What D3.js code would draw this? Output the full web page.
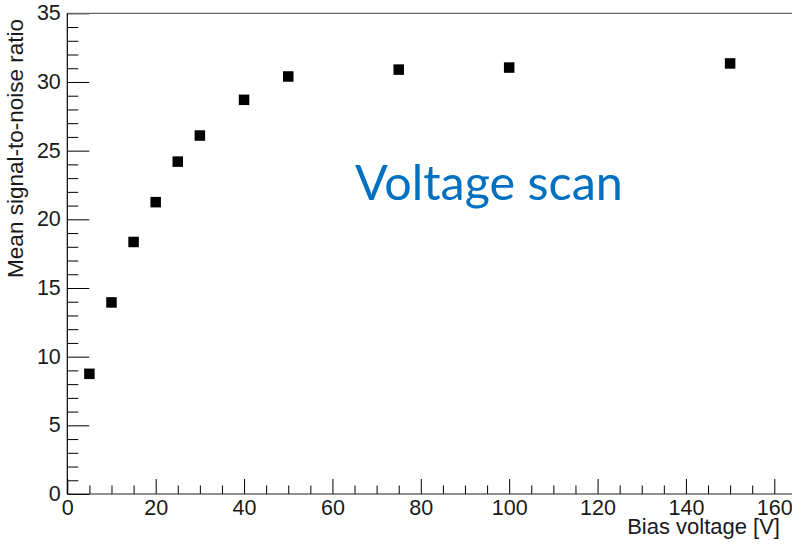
<!DOCTYPE html>
<html>
<head>
<meta charset="utf-8">
<script src="https://cdn.jsdelivr.net/npm/d3@7"></script>
<style>
  body { margin: 0; background: #fff; }
  .axis text { font-family: "Liberation Sans", Arial, sans-serif; font-size: 21.5px; fill: #1a1a1a; }
  .axis line { stroke: #000; }
</style>
</head>
<body>
<script>
// bias voltage [V] and mean S/N
var voltage = [5, 10, 15, 20, 25, 30, 40, 50, 75, 100, 150];
var snr = [8.75, 13.95, 18.35, 21.25, 24.2, 26.1, 28.7, 30.4, 30.9, 31.05, 31.35];
var xMajor = [0, 20, 40, 60, 80, 100, 120, 140, 160];
var yMajor = [0, 5, 10, 15, 20, 25, 30, 35];

var w = 792;
var h = 544;
var svg = d3.select("body")
            .append("svg")
            .attr("width", w)
            .attr("height", h);

var x0 = 67.3, y0 = 494, yTop = 13.3;

var xScale = d3.scaleLinear()
              .domain([0, 160])
              .range([x0, 774.3]);

var yScale = d3.scaleLinear()
              .domain([0, 35])
              .range([y0, yTop]);

// minor ticks first
var xMinor = d3.range(0, 165, 5).filter(function(v){ return v % 20 != 0; });
var yMinor = d3.range(0, 36, 1).filter(function(v){ return v % 5 != 0; });

svg.append("g")
    .attr("class", "axis")
    .attr("transform", "translate(0," + y0 + ")")
    .call(d3.axisBottom(xScale).tickValues(xMinor).tickSize(-8.5).tickSizeOuter(0).tickFormat(""))
    .call(function(g){ g.select(".domain").remove(); });

svg.append("g")
    .attr("class", "axis")
    .attr("transform", "translate(0," + y0 + ")")
    .call(d3.axisBottom(xScale).tickValues(xMajor).tickSize(-15).tickSizeOuter(0).tickPadding(5.5))
    .call(function(g){ g.select(".domain").remove(); });

svg.append("g")
    .attr("class", "axis")
    .attr("transform", "translate(" + x0 + ",0)")
    .call(d3.axisLeft(yScale).tickValues(yMinor).tickSize(-11).tickSizeOuter(0).tickFormat(""))
    .call(function(g){ g.select(".domain").remove(); });

svg.append("g")
    .attr("class", "axis")
    .attr("transform", "translate(" + x0 + ",0)")
    .call(d3.axisLeft(yScale).tickValues(yMajor).tickSize(-22).tickSizeOuter(0).tickPadding(6.5))
    .call(function(g){ g.select(".domain").remove(); })
    .selectAll("text").attr("dy", "0.3em");

// frame lines
svg.append("line").attr("x1", x0).attr("x2", w).attr("y1", y0).attr("y2", y0)
    .attr("stroke", "#222").attr("stroke-width", 1.2);
svg.append("line").attr("x1", x0).attr("x2", w).attr("y1", yTop).attr("y2", yTop)
    .attr("stroke", "#666").attr("stroke-width", 1.2);
svg.append("line").attr("x1", x0).attr("x2", x0).attr("y1", yTop).attr("y2", y0)
    .attr("stroke", "#000").attr("stroke-width", 1.2);

// markers
var s = 10.5;
svg.selectAll("rect.pt")
    .data(voltage)
    .enter()
    .append("rect")
      .attr("class", "pt")
      .attr("x", function(d){ return xScale(d) - s / 2; })
      .attr("y", function(d, i){ return yScale(snr[i]) - s / 2; })
      .attr("width", s)
      .attr("height", s)
      .attr("fill", "#000");

// axis titles
svg.append("text")
    .attr("x", 780)
    .attr("y", 534)
    .attr("text-anchor", "end")
    .style("font-family", "'Liberation Sans', Arial, sans-serif")
    .style("font-size", "22px")
    .attr("fill", "#1a1a1a")
    .text("Bias voltage [V]");

svg.append("text")
    .attr("transform", "translate(22.5,19) rotate(-90)")
    .attr("text-anchor", "end")
    .style("font-family", "'Liberation Sans', Arial, sans-serif")
    .style("font-size", "22.5px")
    .attr("fill", "#1a1a1a")
    .text("Mean signal-to-noise ratio");

svg.append("text")
    .attr("x", 355)
    .attr("y", 200)
    .style("font-family", "Lato, 'Open Sans', sans-serif")
    .style("font-size", "48.5px")
    .attr("fill", "#0070c0")
    .text("Voltage scan");
</script>
</body>
</html>
